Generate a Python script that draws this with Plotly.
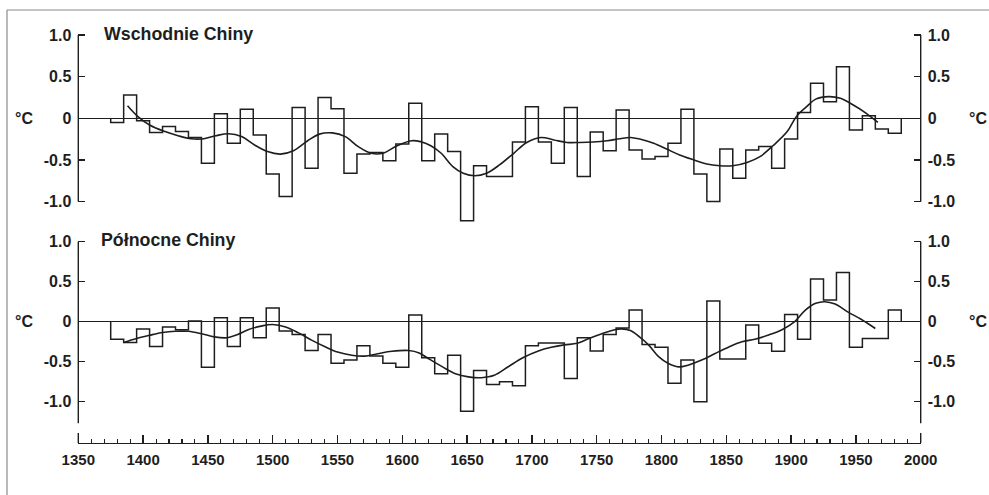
import plotly.graph_objects as go

# ---------------- data ----------------
decades = list(range(1380, 1990, 10))  # decadal bins, centre years

east_values = [-0.05, 0.28, -0.03, -0.17, -0.10, -0.16, -0.23, -0.54, 0.055, -0.30,
               0.11, -0.20, -0.67, -0.94, 0.13, -0.60, 0.25, 0.115, -0.66, -0.43,
               -0.41, -0.51, -0.31, 0.18, -0.51, -0.19, -0.40, -1.23, -0.57, -0.70,
               -0.70, -0.285, 0.14, -0.285, -0.54, 0.13, -0.70, -0.165, -0.39, 0.10,
               -0.38, -0.49, -0.46, -0.30, 0.11, -0.67, -1.00, -0.37, -0.72, -0.38,
               -0.34, -0.60, -0.25, 0.07, 0.42, 0.20, 0.62, -0.14, 0.03, -0.13,
               -0.18]

north_values = [-0.22, -0.26, -0.09, -0.31, -0.065, -0.10, 0.01, -0.57, 0.05, -0.31,
                0.05, -0.20, 0.17, -0.115, -0.16, -0.36, -0.16, -0.52, -0.48, -0.30,
                -0.43, -0.52, -0.57, 0.085, -0.45, -0.65, -0.42, -1.12, -0.61, -0.785,
                -0.75, -0.80, -0.30, -0.265, -0.265, -0.71, -0.20, -0.365, -0.16, -0.08,
                0.145, -0.285, -0.32, -0.77, -0.48, -1.00, 0.26, -0.465, -0.465, -0.04,
                -0.27, -0.37, 0.09, -0.22, 0.535, 0.27, 0.615, -0.32, -0.21, -0.21,
                0.145]

east_smooth_years = [1388, 1396, 1405, 1417, 1427, 1437, 1447, 1456, 1466, 1476,
                     1486, 1496, 1506, 1516, 1527, 1536, 1546, 1556, 1566, 1576,
                     1585, 1596, 1607, 1614, 1622, 1630, 1639, 1647, 1656, 1665,
                     1675, 1686, 1696, 1707, 1717, 1727, 1737, 1747, 1758, 1768,
                     1776, 1786, 1794, 1804, 1814, 1825, 1835, 1845, 1855, 1866,
                     1876, 1886, 1897, 1904, 1912, 1919, 1929, 1938, 1948, 1958,
                     1967]
east_smooth = [0.15, 0.02, -0.08, -0.16, -0.21, -0.245, -0.245, -0.21, -0.185, -0.22,
               -0.32, -0.40, -0.43, -0.39, -0.27, -0.19, -0.175, -0.22, -0.34, -0.42,
               -0.42, -0.33, -0.27, -0.28, -0.33, -0.42, -0.58, -0.66, -0.69, -0.66,
               -0.56, -0.42, -0.29, -0.23, -0.26, -0.29, -0.29, -0.285, -0.27, -0.245,
               -0.23, -0.26, -0.30, -0.37, -0.44, -0.50, -0.55, -0.57, -0.57, -0.53,
               -0.46, -0.33, -0.16, 0.02, 0.14, 0.23, 0.26, 0.24, 0.16, 0.06,
               -0.05]

north_smooth_years = [1385, 1395, 1405, 1415, 1425, 1435, 1445, 1455, 1465, 1473,
                      1481, 1491, 1500, 1510, 1520, 1530, 1540, 1550, 1561, 1571,
                      1581, 1592, 1605, 1613, 1620, 1631, 1641, 1651, 1661, 1671,
                      1682, 1693, 1705, 1715, 1725, 1735, 1744, 1754, 1764, 1769,
                      1776, 1783, 1790, 1798, 1805, 1813, 1821, 1831, 1841, 1852,
                      1862, 1872, 1882, 1893, 1903, 1911, 1919, 1926, 1934, 1944,
                      1954, 1965]
north_smooth = [-0.26, -0.21, -0.17, -0.135, -0.12, -0.12, -0.15, -0.19, -0.20, -0.16,
                -0.10, -0.055, -0.035, -0.065, -0.14, -0.23, -0.31, -0.38, -0.42, -0.43,
                -0.40, -0.37, -0.36, -0.39, -0.46, -0.565, -0.65, -0.69, -0.70, -0.67,
                -0.56, -0.45, -0.365, -0.32, -0.29, -0.27, -0.21, -0.15, -0.10, -0.09,
                -0.11, -0.19, -0.29, -0.44, -0.52, -0.565, -0.54, -0.48, -0.40, -0.315,
                -0.25, -0.22, -0.17, -0.10, 0.005, 0.145, 0.23, 0.25, 0.22, 0.12,
                0.03, -0.085]

y_tickvals = [-1.0, -0.5, 0.0, 0.5, 1.0]
y_ticktext = ["-1.0", "-0.5", "0", "0.5", "1.0"]
x_tickvals = list(range(1350, 2001, 50))

# ---------------- layout geometry (pixels) ----------------
W, H = 989, 495
XL, XR = 78.3, 920.7          # 1350 .. 2000
T_ZERO, T_PPU, T_TOP, T_BOT = 118.3, 83.25, 20, 226
B_ZERO, B_PPU, B_TOP, B_BOT = 321.7, 80.0, 229, 443

def px_x(p):
    return p / W

def px_y(p):
    return 1 - p / H

t_range = [(T_ZERO - T_BOT) / T_PPU, (T_ZERO - T_TOP) / T_PPU]
b_range = [(B_ZERO - B_BOT) / B_PPU, (B_ZERO - B_TOP) / B_PPU]

INK = "#1e1e1e"
FONT = "Liberation Sans, Arial, Helvetica, sans-serif"

def step_xy(centres, vals):
    xs = [centres[0] - 5] + [c - 5 for c in centres] + [centres[-1] + 5]
    ys = [0] + list(vals) + [0]
    return xs, ys

fig = go.Figure()

ex, ey = step_xy(decades, east_values)
nx, ny = step_xy(decades, north_values)

fig.add_trace(go.Scatter(x=ex, y=ey, mode="lines", line=dict(shape="hv", color=INK, width=1.5),
                         xaxis="x", yaxis="y", hoverinfo="skip", showlegend=False))
fig.add_trace(go.Scatter(x=east_smooth_years, y=east_smooth, mode="lines",
                         line=dict(shape="spline", smoothing=1.0, color=INK, width=1.6),
                         xaxis="x", yaxis="y", hoverinfo="skip", showlegend=False))
fig.add_trace(go.Scatter(x=nx, y=ny, mode="lines", line=dict(shape="hv", color=INK, width=1.5),
                         xaxis="x2", yaxis="y2", hoverinfo="skip", showlegend=False))
fig.add_trace(go.Scatter(x=north_smooth_years, y=north_smooth, mode="lines",
                         line=dict(shape="spline", smoothing=1.0, color=INK, width=1.6),
                         xaxis="x2", yaxis="y2", hoverinfo="skip", showlegend=False))
# empty traces so the right-hand axes are drawn
fig.add_trace(go.Scatter(x=[None], y=[None], xaxis="x", yaxis="y3", showlegend=False))
fig.add_trace(go.Scatter(x=[None], y=[None], xaxis="x2", yaxis="y4", showlegend=False))

tickfont = dict(family=FONT, size=16, color=INK, weight="bold")
xdom = [px_x(XL), px_x(XR)]

common_y = dict(tickvals=y_tickvals, ticktext=y_ticktext, ticks="inside", ticklen=7,
                tickwidth=1.4, tickcolor=INK, showgrid=False, showline=False,
                tickfont=tickfont, ticklabelstandoff=6, fixedrange=True, automargin=False)

fig.update_layout(
    width=W, height=H,
    margin=dict(l=0, r=0, t=0, b=0, pad=0, autoexpand=False),
    paper_bgcolor="white", plot_bgcolor="rgba(0,0,0,0)",
    showlegend=False,
    xaxis=dict(domain=xdom, range=[1350, 2000], anchor="y", visible=False, fixedrange=True,
               automargin=False),
    xaxis2=dict(domain=xdom, range=[1350, 2000], anchor="y2", tickvals=x_tickvals,
                ticks="inside", ticklen=8, tickwidth=1.4, tickcolor=INK,
                showline=True, linecolor=INK, linewidth=1.4, showgrid=False,
                zeroline=False, tickfont=dict(family=FONT, size=15, color=INK, weight="bold"),
                ticklabelstandoff=3, automargin=False,
                minor=dict(dtick=10, tick0=1350, ticks="inside", ticklen=4, tickwidth=1.1,
                           tickcolor=INK, showgrid=False),
                fixedrange=True),
    yaxis=dict(domain=[px_y(T_BOT), px_y(T_TOP)], range=t_range, anchor="x",
               zeroline=True, zerolinecolor=INK, zerolinewidth=1.4, **common_y),
    yaxis3=dict(domain=[px_y(T_BOT), px_y(T_TOP)], range=t_range, anchor="x",
                overlaying="y", side="right", zeroline=False, **common_y),
    yaxis2=dict(domain=[px_y(B_BOT), px_y(B_TOP)], range=b_range, anchor="x2",
                zeroline=True, zerolinecolor=INK, zerolinewidth=1.4, **common_y),
    yaxis4=dict(domain=[px_y(B_BOT), px_y(B_TOP)], range=b_range, anchor="x2",
                overlaying="y2", side="right", zeroline=False, **common_y),
)

shapes = []
# y-axis lines (partial length as in the original)
for xr, yr, y0, y1 in [("x domain", "y", -1.0, 1.0), ("x2 domain", "y2", -1.27, 1.0)]:
    for xpos in (0, 1):
        shapes.append(dict(type="line", xref=xr, yref=yr, x0=xpos, x1=xpos, y0=y0, y1=y1,
                           line=dict(color=INK, width=1.4)))
# longer end ticks on the time axis
for xpos in (0, 1):
    shapes.append(dict(type="line", xref="x2 domain", yref="paper", x0=xpos, x1=xpos,
                       y0=px_y(B_BOT), y1=px_y(B_BOT - 10), line=dict(color=INK, width=1.4)))
# outer frame
shapes.append(dict(type="line", xref="paper", yref="paper", x0=px_x(7), x1=px_x(7),
                   y0=px_y(10), y1=0, line=dict(color="#8a8a8a", width=1.2)))
shapes.append(dict(type="line", xref="paper", yref="paper", x0=px_x(7), x1=1,
                   y0=px_y(10), y1=px_y(10), line=dict(color="#8a8a8a", width=1.2)))
fig.update_layout(shapes=shapes)

title_font = dict(family=FONT, size=17.8, color=INK, weight="bold")
unit_font = dict(family=FONT, size=16, color=INK, weight="bold")
ann = [
    dict(text="Wschodnie Chiny", x=px_x(102), y=px_y(34), xref="paper", yref="paper",
         xanchor="left", yanchor="middle", showarrow=False, font=title_font),
    dict(text="Północne Chiny", x=px_x(99), y=px_y(240), xref="paper", yref="paper",
         xanchor="left", yanchor="middle", showarrow=False, font=title_font),
]
for yref in ("y", "y2"):
    ann.append(dict(text="°C", x=px_x(24), y=0, xref="paper", yref=yref, xanchor="center",
                    yanchor="middle", showarrow=False, font=unit_font))
    ann.append(dict(text="°C", x=px_x(978), y=0, xref="paper", yref=yref, xanchor="center",
                    yanchor="middle", showarrow=False, font=unit_font))
fig.update_layout(annotations=ann)

fig.write_html("out.html", config={"displayModeBar": False, "staticPlot": True},
               post_script="document.body.style.margin='0';")
